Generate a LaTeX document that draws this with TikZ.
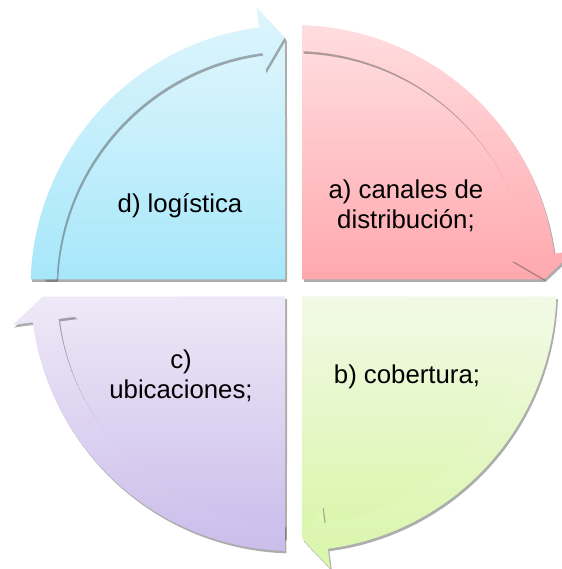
\documentclass[tikz,border=0pt]{standalone}
\usepackage{fontspec}
\setmainfont{Liberation Sans}
\usepackage{tikz}
\usepackage{xcolor}
\usetikzlibrary{shadows}
\definecolor{pinktop}{HTML}{FFDDDF}
\definecolor{pinkbot}{HTML}{FFA8AE}
\definecolor{greentop}{HTML}{F2F9E6}
\definecolor{greenbot}{HTML}{D9F6AA}
\definecolor{lilactop}{HTML}{EEE9F7}
\definecolor{lilacbot}{HTML}{CBBDEB}
\definecolor{bluetop}{HTML}{DEF5FC}
\definecolor{bluebot}{HTML}{A6E7FA}
\definecolor{shade}{HTML}{4A4A4A}
\tikzset{
  quadbody/.style={shading=axis,line width=0pt,
                   drop shadow={shadow xshift=2,shadow yshift=-2.5,opacity=0.45,fill=shade}},
  cyclearrow/.style={shading=axis,line width=0pt,
                     drop shadow={shadow xshift=1.5,shadow yshift=-2.5,opacity=0.45,fill=shade}},
  quadlabel/.style={align=center,font=\fontsize{22}{25.5}\selectfont,text=black,inner sep=0pt}
}

\begin{document}
\begin{tikzpicture}[x=0.03cm,y=0.03cm]
  \useasboundingbox (-293.5,-281) rectangle (267.5,288);
  % a) top right
  \path[quadbody,top color=pinktop,bottom color=pinkbot] (8.5,8.5) -- (88.05:250) arc[start angle=88.05,end angle=1.95,radius=250] -- cycle;
  \path[cyclearrow,top color=pinktop,bottom color=pinkbot] (88.1:263) arc[start angle=88.1,end angle=7.5,radius=263]
    -- (7.5:283) -- (2:251) -- (7.5:219) -- (7.5:237) arc[start angle=7.5,end angle=87.9,radius=237] -- cycle;
  % b) bottom right
  \path[quadbody,top color=greentop,bottom color=greenbot] (8.5,-8.5) -- (-1.95:250) arc[start angle=-1.95,end angle=-88.05,radius=250] -- cycle;
  \path[cyclearrow,top color=greentop,bottom color=greenbot] (-1.9:263) arc[start angle=-1.9,end angle=-82.5,radius=263]
    -- (-82.5:283) -- (-88:251) -- (-82.5:219) -- (-82.5:237) arc[start angle=-82.5,end angle=-2.1,radius=237] -- cycle;
  % c) bottom left
  \path[quadbody,top color=lilactop,bottom color=lilacbot] (-8.5,-8.5) -- (-91.95:250) arc[start angle=-91.95,end angle=-178.05,radius=250] -- cycle;
  \path[cyclearrow,top color=lilactop,bottom color=lilacbot] (-91.9:263) arc[start angle=-91.9,end angle=-172.5,radius=263]
    -- (-172.5:283) -- (-178:251) -- (-172.5:219) -- (-172.5:237) arc[start angle=-172.5,end angle=-92.1,radius=237] -- cycle;
  % d) top left
  \path[quadbody,top color=bluetop,bottom color=bluebot] (-8.5,8.5) -- (178.05:250) arc[start angle=178.05,end angle=91.95,radius=250] -- cycle;
  \path[cyclearrow,top color=bluetop,bottom color=bluebot] (178.1:263) arc[start angle=178.1,end angle=97.5,radius=263]
    -- (97.5:283) -- (92:251) -- (97.5:219) -- (97.5:237) arc[start angle=97.5,end angle=177.9,radius=237] -- cycle;
  % labels
  \node[quadlabel] (qa) at (112.5,82) {a) canales de\\distribución;};
  \node[quadlabel] (qb) at (113.5,-89) {b) cobertura;};
  \node[quadlabel] (qc) at (-112.5,-88) {c)\\ubicaciones;};
  \node[quadlabel] (qd) at (-113.5,82) {d) logística};
\end{tikzpicture}
\end{document}
